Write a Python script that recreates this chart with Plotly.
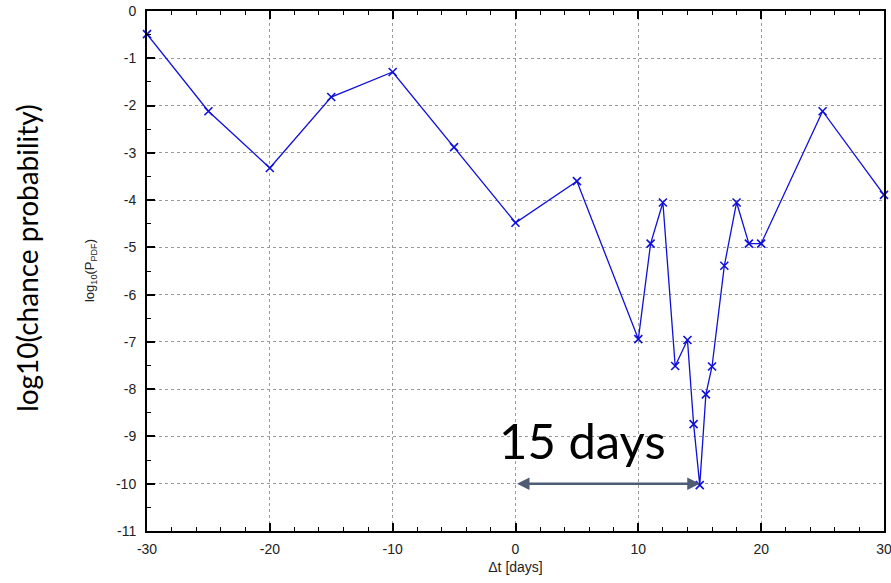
import plotly.graph_objects as go

dt_days = [-30, -25, -20, -15, -10, -5, 0, 5, 10, 11, 12, 13, 14, 14.5, 15, 15.5, 16, 17, 18, 19, 20, 25, 30]
log_p = [-0.49, -2.12, -3.32, -1.82, -1.29, -2.88, -4.48, -3.6, -6.94, -4.92, -4.05, -7.51, -6.96,
         -8.74, -10.03, -8.11, -7.52, -5.39, -4.05, -4.92, -4.92, -2.12, -3.89]

x_ticks = [-30, -20, -10, 0, 10, 20, 30]
y_ticks = list(range(0, -12, -1))

fig = go.Figure()
fig.add_trace(go.Scatter(
    x=dt_days, y=log_p, mode="lines+markers",
    line=dict(color="#1010d8", width=1.3),
    marker=dict(symbol="x-thin", size=8, line=dict(color="#1010d8", width=1.6)),
    showlegend=False, hoverinfo="skip", cliponaxis=False))

axis_font = dict(family="Liberation Sans, Arial", size=14, color="#222222")

fig.update_xaxes(
    range=[-30, 30], tickvals=x_ticks, ticktext=[str(v) for v in x_ticks],
    ticks="inside", ticklen=8, tickwidth=1.5, tickcolor="black",
    minor=dict(dtick=2, ticks="inside", ticklen=4, tickwidth=1.2, tickcolor="black", showgrid=False),
    showline=True, linewidth=2, linecolor="black", mirror="ticks",
    showgrid=True, gridcolor="#9a9a9a", griddash="dot", gridwidth=1,
    zeroline=False, tickfont=axis_font, ticklabelstandoff=4, automargin=False,
    ticklabeloverflow="allow",
    title=dict(text="Δt [days]", font=dict(family="Liberation Sans, Arial", size=14, color="#222222"), standoff=6))

fig.update_yaxes(
    range=[-11, 0], tickvals=y_ticks, ticktext=[str(v) for v in y_ticks],
    ticks="inside", ticklen=8, tickwidth=1.5, tickcolor="black",
    minor=dict(dtick=0.5, ticks="inside", ticklen=4, tickwidth=1.2, tickcolor="black", showgrid=False),
    showline=True, linewidth=2, linecolor="black", mirror=True,
    showgrid=True, gridcolor="#9a9a9a", griddash="dot", gridwidth=1,
    zeroline=False, tickfont=axis_font, ticklabelstandoff=6, automargin=False,
    ticklabeloverflow="allow")

fig.add_annotation(
    x=15, y=-10, ax=0, ay=-10, xref="x", yref="y", axref="x", ayref="y",
    text="", showarrow=True, arrowhead=2, arrowside="end+start", arrowsize=1,
    arrowwidth=2.5, arrowcolor="#4e5d74")

fig.add_annotation(
    x=5.45, y=-9.08, xref="x", yref="y", text="15 days", showarrow=False,
    xanchor="center", yanchor="middle",
    font=dict(family="Lato", size=49, color="black"))

fig.add_annotation(
    x=-0.0773, y=0.5, xref="paper", yref="paper", text="log<sub>10</sub>(P<sub>PDF</sub>)",
    showarrow=False, textangle=-90, xanchor="center", yanchor="middle",
    font=dict(family="Liberation Sans, Arial", size=13, color="#222222"))

fig.add_annotation(
    x=-0.163, y=0.525, xref="paper", yref="paper", text="log10(chance probability)",
    showarrow=False, textangle=-90, xanchor="center", yanchor="middle",
    font=dict(family="Lato", size=28, color="black"))

fig.update_layout(
    width=891, height=583, margin=dict(l=147, r=7, t=11, b=52),
    paper_bgcolor="white", plot_bgcolor="white")

fig.write_html("out.html")
